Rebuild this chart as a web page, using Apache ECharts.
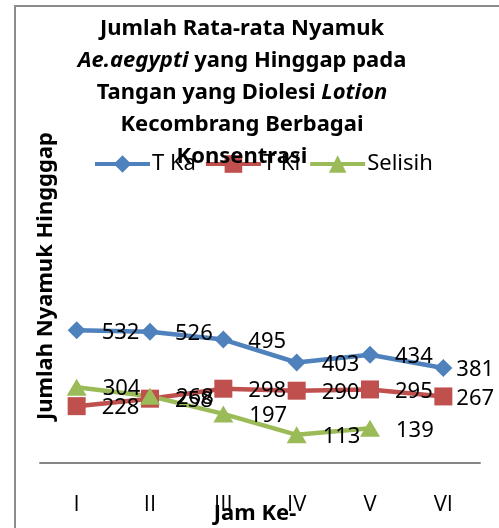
<!DOCTYPE html>
<html lang="id">
<head>
    <meta charset="UTF-8">
    <title>Jumlah Rata-rata Nyamuk</title>
</head>
<body style="margin:0;background:#fff">
<div id="chart" style="width:499px;height:528px"></div>

<script type="text/javascript" src="https://cdn.jsdelivr.net/npm/echarts@6/dist/echarts.min.js"></script>
<script type="text/javascript">
    // data
    var jamKe = ['I', 'II', 'III', 'IV', 'V', 'VI'];
    var tKa = [532, 526, 495, 403, 434, 381];
    var tKi = [228, 258, 298, 290, 295, 267];
    var selisih = [304, 268, 197, 113, 139];

    var font = 'Noto Sans';

    // last point label sits closer to its marker
    function withLabels(arr) {
        return arr.map(function (v, i) {
            return i === 5 ? {value: v, label: {distance: 4}} : v;
        });
    }

    var myChart = echarts.init(document.getElementById('chart'));

    var option = {
        animation: false,
        textStyle: {fontFamily: font},
        title: {
            left: 242,
            top: 13,
            padding: 0,
            textAlign: 'center',
            text: '{b|Jumlah Rata-rata Nyamuk}\n{i|Ae.aegypti}{b| yang Hinggap pada}\n{b|Tangan yang Diolesi }{i|Lotion}\n{b|Kecombrang Berbagai}\n{b|Konsentrasi}',
            textStyle: {
                rich: {
                    b: {fontFamily: font, fontWeight: 'bold', fontSize: 22, lineHeight: 32, color: '#000'},
                    i: {fontFamily: font, fontWeight: 'bold', fontStyle: 'italic', fontSize: 22, lineHeight: 32, color: '#000'}
                }
            },
            z: 10
        },
        legend: {
            left: 88,
            top: 148,
            itemWidth: 55,
            itemHeight: 22,
            itemGap: 8,
            lineStyle: {width: 4},
            textStyle: {fontFamily: font, fontSize: 22, color: '#000', padding: [0, 0, 0, -3]},
            data: ['T Ka', 'T Ki', 'Selisih']
        },
        graphic: [{
            type: 'rect',
            shape: {x: 15, y: 6, width: 600, height: 600},
            style: {fill: 'none', stroke: '#8c8c8c', lineWidth: 2},
            silent: true
        }],
        grid: {left: 40, right: 19, top: 89, bottom: 65, outerBoundsMode: 'none', containLabel: false},
        xAxis: {
            type: 'category',
            data: jamKe,
            boundaryGap: true,
            axisLine: {lineStyle: {color: '#868686', width: 2}},
            axisTick: {show: false},
            axisLabel: {fontFamily: 'Open Sans', fontSize: 22, color: '#000', margin: 31},
            name: 'Jam Ke-',
            nameLocation: 'middle',
            nameGap: 40,
            nameMoveOverlap: false,
            nameTextStyle: {fontFamily: font, fontWeight: 'bold', fontSize: 22, color: '#000', padding: [0, 10, 0, 0]}
        },
        yAxis: {
            type: 'value',
            min: 0,
            max: 1500,
            axisLine: {show: false},
            axisTick: {show: false},
            axisLabel: {show: false},
            splitLine: {show: false},
            name: 'Jumlah Nyamuk Hingggap',
            nameLocation: 'middle',
            nameGap: -17,
            nameMoveOverlap: false,
            nameTextStyle: {fontFamily: font, fontWeight: 'bold', fontSize: 22, color: '#000'}
        },
        series: [{
            name: 'T Ka',
            type: 'line',
            data: withLabels(tKa),
            symbol: 'diamond',
            symbolSize: 18,
            color: '#4F81BD',
            lineStyle: {width: 4.5},
            label: {show: true, position: 'right', distance: 16, offset: [0, 2], fontFamily: font, fontSize: 22, color: '#000'}
        }, {
            name: 'T Ki',
            type: 'line',
            data: withLabels(tKi),
            symbol: 'rect',
            symbolSize: 18,
            color: '#C0504D',
            lineStyle: {width: 4.5},
            label: {show: true, position: 'right', distance: 16, offset: [0, 2], fontFamily: font, fontSize: 22, color: '#000'}
        }, {
            name: 'Selisih',
            type: 'line',
            data: withLabels(selisih),
            symbol: 'triangle',
            symbolSize: [20, 17],
            color: '#9BBB59',
            lineStyle: {width: 4.5},
            label: {show: true, position: 'right', distance: 16, offset: [0, 2], fontFamily: font, fontSize: 22, color: '#000'}
        }]
    };

    myChart.setOption(option);
</script>
</body>
</html>
